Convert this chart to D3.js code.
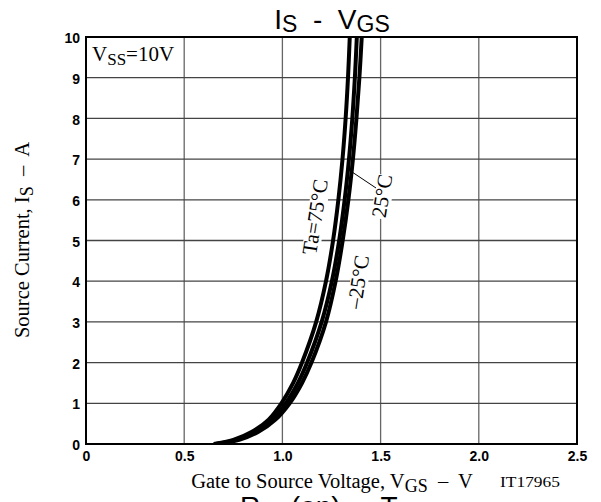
<!DOCTYPE html>
<html>
<head>
<meta charset="utf-8">
<script src="https://cdn.jsdelivr.net/npm/d3@7"></script>
<style>
  body { margin: 0; background: #fff; }
  svg { display: block; }
  svg text { white-space: pre; }
</style>
</head>
<body>
<svg width="601" height="502"></svg>
<script>
// data (Is in A, Vgs in V)
const currents = [0, 0.1, 0.3, 0.6, 1, 1.5, 2, 3, 4, 5, 6, 7, 8, 9, 10];
const vgs75 = [0.65, 0.75, 0.845, 0.93, 0.995, 1.055, 1.100, 1.172, 1.222, 1.258, 1.285, 1.306, 1.322, 1.334, 1.343];
const vgs25 = [0.66, 0.765, 0.862, 0.948, 1.017, 1.079, 1.126, 1.200, 1.252, 1.289, 1.317, 1.339, 1.356, 1.369, 1.379];
const vgsM25 = [0.67, 0.78, 0.878, 0.965, 1.037, 1.100, 1.148, 1.222, 1.271, 1.307, 1.336, 1.359, 1.377, 1.392, 1.404];
const xTicks = [0, 0.5, 1.0, 1.5, 2.0, 2.5];
const yTicks = [0, 1, 2, 3, 4, 5, 6, 7, 8, 9, 10];

const svg = d3.select('svg');

const x = d3.scaleLinear().domain([0, 2.5]).range([86, 577]);
const y = d3.scaleLinear().domain([0, 10]).range([444, 37]);

// grid
svg.append('g')
  .selectAll('line')
  .data(xTicks.slice(1, -1))
  .enter()
  .append('line')
  .attr('x1', (d) => x(d)).attr('x2', (d) => x(d))
  .attr('y1', y(0)).attr('y2', y(10))
  .attr('stroke', '#666').attr('stroke-width', 1.3);

svg.append('g')
  .selectAll('line')
  .data(yTicks.slice(1, -1))
  .enter()
  .append('line')
  .attr('x1', x(0)).attr('x2', x(2.5))
  .attr('y1', (d) => y(d)).attr('y2', (d) => y(d))
  .attr('stroke', '#444').attr('stroke-width', 1.3);

// curves
const series = [vgs75, vgs25, vgsM25];
const line = d3.line()
  .x((d) => x(d[0]))
  .y((d) => y(d[1]))
  .curve(d3.curveCatmullRom.alpha(0.5));

svg.append('defs').append('clipPath').attr('id', 'clip')
  .append('rect')
  .attr('x', x(0)).attr('y', y(10))
  .attr('width', x(2.5) - x(0)).attr('height', y(0) - y(10));

svg.append('g')
  .attr('clip-path', 'url(#clip)')
  .selectAll('path')
  .data(series)
  .enter()
  .append('path')
  .attr('d', (s) => line(s.map((v, i) => [v, currents[i]])))
  .attr('fill', 'none')
  .attr('stroke', '#000')
  .attr('stroke-width', 4);

// frame
svg.append('rect')
  .attr('x', x(0)).attr('y', y(10))
  .attr('width', x(2.5) - x(0)).attr('height', y(0) - y(10))
  .attr('fill', 'none').attr('stroke', '#000').attr('stroke-width', 2);

// axes
const xAxis = d3.axisBottom(x)
  .tickValues(xTicks)
  .tickSize(0)
  .tickPadding(7)
  .tickFormat((d) => (d === 0 ? '0' : d.toFixed(1)));
const gx = svg.append('g').attr('transform', `translate(0,${y(0)})`).call(xAxis);

const yAxis = d3.axisLeft(y).tickValues(yTicks).tickSize(0).tickPadding(6);
const gy = svg.append('g').attr('transform', `translate(${x(0)},0)`).call(yAxis);

[gx, gy].forEach((g) => {
  g.select('.domain').remove();
  g.selectAll('text')
    .attr('font-family', 'Liberation Sans, Arial, sans-serif')
    .attr('font-weight', 'bold')
    .attr('font-size', 14)
    .attr('fill', '#000');
});
gy.selectAll('text').attr('dy', '0.4em');

// title
const sans = 'Liberation Sans, Arial, sans-serif';
const title = svg.append('text')
  .attr('x', 332).attr('y', 29)
  .attr('text-anchor', 'middle')
  .attr('font-family', sans)
  .attr('font-size', 28);
title.append('tspan').text('I');
title.append('tspan').attr('font-size', 23).attr('dy', 3).text('S');
title.append('tspan').attr('dy', -3).text('  -  V');
title.append('tspan').attr('font-size', 23).attr('dy', 3).text('GS');

// axis titles
const serif = 'Liberation Serif, Times New Roman, serif';
const xt = svg.append('text')
  .attr('x', 332).attr('y', 488)
  .attr('text-anchor', 'middle')
  .attr('font-family', serif).attr('font-size', 20.5);
xt.append('tspan').text('Gate to Source Voltage, V');
xt.append('tspan').attr('font-size', 18).attr('dy', 4).text('GS');
xt.append('tspan').attr('dy', -4).text('  –  V');

const yt = svg.append('text')
  .attr('transform', 'translate(29,240) rotate(-90)')
  .attr('text-anchor', 'middle')
  .attr('font-family', serif).attr('font-size', 20.5);
yt.append('tspan').text('Source Current, I');
yt.append('tspan').attr('font-size', 18).attr('dy', 4).text('S');
yt.append('tspan').attr('dy', -4).text('  –  A');

svg.append('text')
  .attr('x', 500).attr('y', 487)
  .attr('font-family', serif).attr('font-size', 14)
  .attr('textLength', 60)
  .attr('lengthAdjust', 'spacingAndGlyphs')
  .text('IT17965');

// condition label
const vss = svg.append('text')
  .attr('x', 92).attr('y', 61)
  .attr('font-family', serif).attr('font-size', 21);
vss.append('tspan').text('V');
vss.append('tspan').attr('font-size', 17).attr('dy', 4).text('SS');
vss.append('tspan').attr('dy', -4).text('=10V');

// curve labels
const labels = [
  { text: 'Ta=75°C', cx: 322, cy: 218, rot: -81 },
  { text: '25°C', cx: 389, cy: 197, rot: -81 },
  { text: '–25°C', cx: 365, cy: 283, rot: -81 }
];

labels.forEach((l) => {
  svg.append('rect')
    .attr('transform', `translate(${l.cx - 6},${l.cy}) rotate(${l.rot})`)
    .attr('x', -l.text.length * 5.5).attr('y', -9)
    .attr('width', l.text.length * 11).attr('height', 18)
    .attr('fill', '#fff');
  svg.append('text')
    .attr('transform', `translate(${l.cx},${l.cy}) rotate(${l.rot})`)
    .attr('text-anchor', 'middle')
    .attr('font-family', serif)
    .attr('font-size', 21)
    .text(l.text);
});

// leader to 25°C curve
svg.append('line')
  .attr('x1', 376).attr('y1', 188)
  .attr('x2', x(1.334)).attr('y2', y(6.75))
  .attr('stroke', '#000').attr('stroke-width', 1);

// next chart title, cut off by the page edge
const next = svg.append('text')
  .attr('x', 325).attr('y', 516)
  .attr('text-anchor', 'middle')
  .attr('font-family', sans)
  .attr('font-size', 28);
next.append('tspan').text('R');
next.append('tspan').attr('font-size', 22).attr('dy', 3).text('DS');
next.append('tspan').attr('dy', -3).text('(on)  -  T');
next.append('tspan').attr('font-size', 22).attr('dy', 3).text('a');
</script>
</body>
</html>
